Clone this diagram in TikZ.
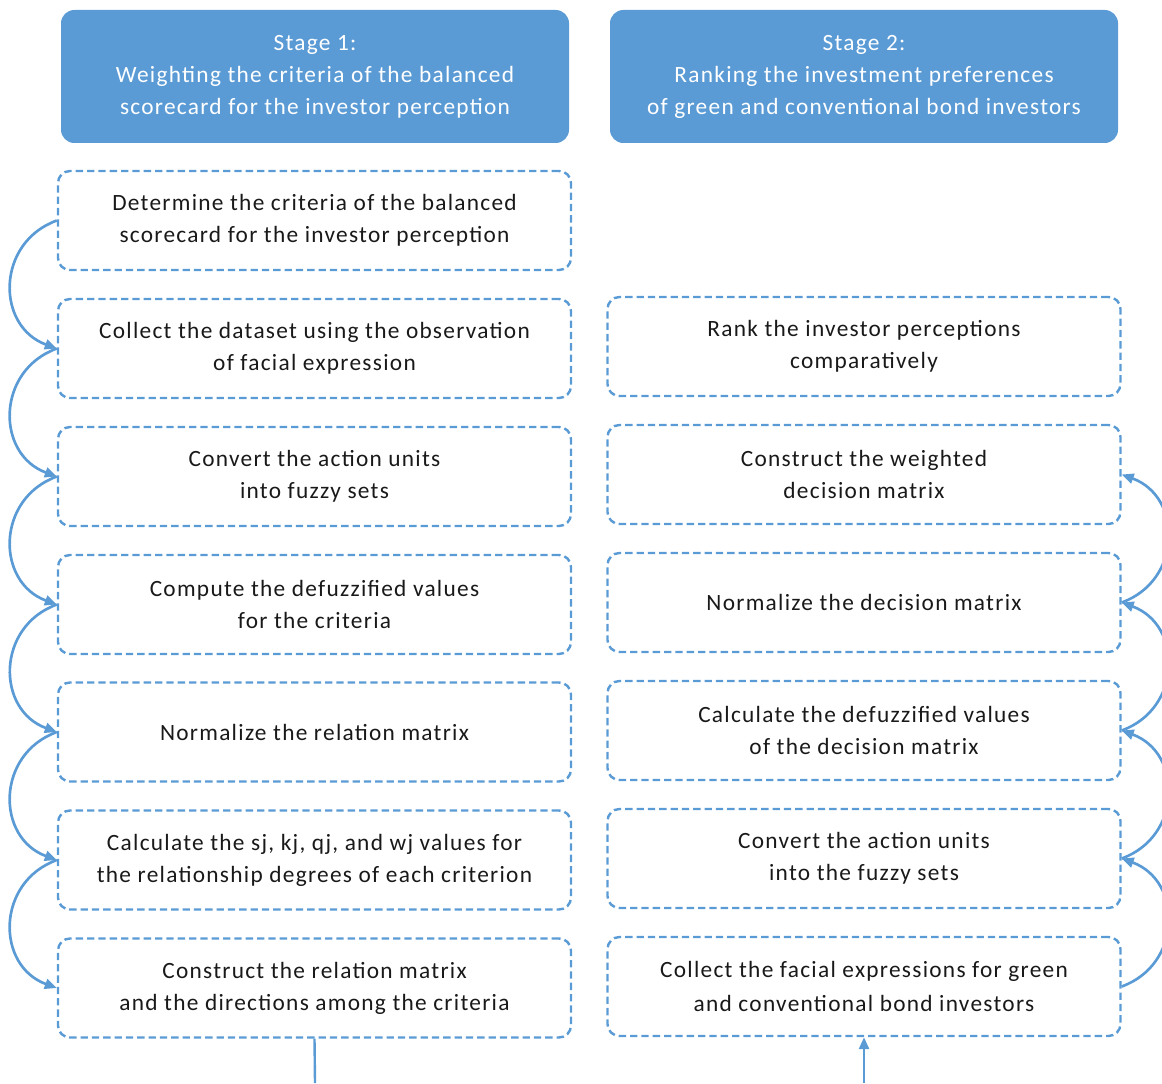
\documentclass[tikz,border=0pt]{standalone}
\usepackage{fontspec}
\setmainfont{Carlito}[LetterSpace=5.5]
\usetikzlibrary{arrows.meta}
\definecolor{stageblue}{HTML}{5B9BD5}
\begin{document}
\begin{tikzpicture}[x=0.75pt,y=0.75pt,line join=round,font=\fontsize{17.5}{24}\selectfont,
  stagebox/.style={fill=stageblue,rounded corners=10pt,minimum width=381pt,minimum height=99.75pt,text=white,align=center,inner sep=0pt},
  stepbox/.style={draw=stageblue,line width=1.8pt,dash pattern=on 5.5pt off 3pt,rounded corners=9pt,minimum width=384.75pt,minimum height=74.25pt,align=center,inner sep=0pt,text=black!90},
  link/.style={stageblue,line width=2pt,-{Triangle[length=9pt,width=7.5pt]}}]
  \useasboundingbox (0,0) rectangle (1162,1083);
  \node[stagebox] (S1) at (315,1006.5) {Stage 1:\\Weighting the criteria of the balanced\\scorecard for the investor perception};
  \node[stagebox] (S2) at (864,1006.5) {Stage 2:\\Ranking the investment preferences\\of green and conventional bond investors};
  \node[stepbox] (L1) at (314.5,862.5) {Determine the criteria of the balanced\\scorecard for the investor perception};
  \node[stepbox] (L2) at (314.5,734.5) {Collect the dataset using the observation\\of facial expression};
  \node[stepbox] (L3) at (314.5,606.5) {Convert the action units\\into fuzzy sets};
  \node[stepbox] (L4) at (314.5,478.5) {Compute the defuzzified values\\for the criteria};
  \node[stepbox] (L5) at (314.5,351) {Normalize the relation matrix};
  \node[stepbox] (L6) at (314.5,223) {Calculate the sj, kj, qj, and wj values for\\the relationship degrees of each criterion};
  \node[stepbox] (L7) at (314.5,95) {Construct the relation matrix\\and the directions among the criteria};
  \node[stepbox] (R1) at (864,736.5) {Rank the investor perceptions\\comparatively};
  \node[stepbox] (R2) at (864,608.5) {Construct the weighted\\decision matrix};
  \node[stepbox] (R3) at (864,480.5) {Normalize the decision matrix};
  \node[stepbox] (R4) at (864,352.5) {Calculate the defuzzified values\\of the decision matrix};
  \node[stepbox] (R5) at (864,224.5) {Convert the action units\\into the fuzzy sets};
  \node[stepbox] (R6) at (864,96.5) {Collect the facial expressions for green\\[2pt]and conventional bond investors};
  \draw[link] (L1.west) to[bend right=70,looseness=1.3] (L2.west);
  \draw[link] (L2.west) to[bend right=70,looseness=1.3] (L3.west);
  \draw[link] (L3.west) to[bend right=70,looseness=1.3] (L4.west);
  \draw[link] (L4.west) to[bend right=70,looseness=1.3] (L5.west);
  \draw[link] (L5.west) to[bend right=70,looseness=1.3] (L6.west);
  \draw[link] (L6.west) to[bend right=70,looseness=1.3] (L7.west);
  \draw[link] (R6.east) to[bend right=70,looseness=1.3] (R5.east);
  \draw[link] (R5.east) to[bend right=70,looseness=1.3] (R4.east);
  \draw[link] (R4.east) to[bend right=70,looseness=1.3] (R3.east);
  \draw[link] (R3.east) to[bend right=70,looseness=1.3] (R2.east);
  \coordinate (Lend) at (315,0);
  \coordinate (Rstart) at (864,0);
  \draw[stageblue,line width=1.8pt] (L7.south) -- (Lend);
  \draw[link] (Rstart) -- (R6.south);
\end{tikzpicture}
\end{document}
